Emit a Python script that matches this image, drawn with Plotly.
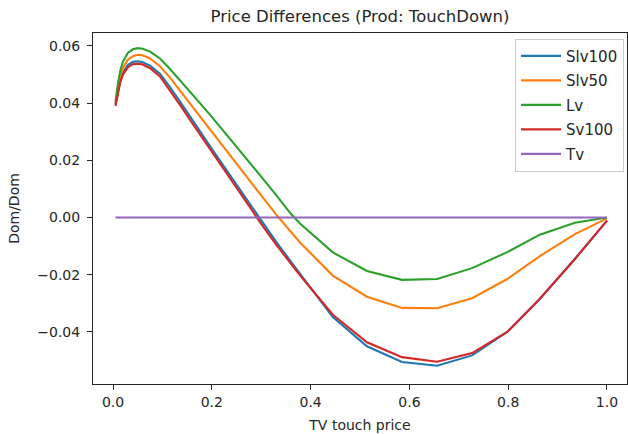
import plotly.graph_objects as go

x = [0.005, 0.01, 0.015, 0.02, 0.03, 0.04, 0.05, 0.06, 0.075, 0.095, 0.115, 0.136,
     0.156, 0.176, 0.2, 0.237, 0.271, 0.30, 0.33, 0.36, 0.379, 0.445, 0.514, 0.585,
     0.656, 0.727, 0.798, 0.864, 0.935, 1.0]

slv100 = [0.0395, 0.0445, 0.0482, 0.0507, 0.0533, 0.0544, 0.0546, 0.0543, 0.0531, 0.0503,
          0.0457, 0.0404, 0.0352, 0.0301, 0.0240, 0.0147, 0.0062, -0.0012, -0.0084, -0.0154,
          -0.0198, -0.0348, -0.0450, -0.0505, -0.0518, -0.0482, -0.0400, -0.0285, -0.0145, -0.0011]

slv50 = [0.0398, 0.0455, 0.0496, 0.0523, 0.0552, 0.0564, 0.0569, 0.0567, 0.0556, 0.0529,
         0.0490, 0.0443, 0.0398, 0.0353, 0.0300, 0.0218, 0.0142, 0.0077, 0.0011, -0.0050,
         -0.0088, -0.0203, -0.0277, -0.0316, -0.0317, -0.0282, -0.0215, -0.0135, -0.0058, -0.0003]

lv = [0.0405, 0.0470, 0.0515, 0.0545, 0.0575, 0.0588, 0.0592, 0.0590, 0.0580, 0.0556,
      0.0520, 0.0480, 0.0440, 0.0400, 0.0352, 0.0276, 0.0204, 0.0143, 0.0079, 0.0013,
      -0.0022, -0.0122, -0.0187, -0.0218, -0.0215, -0.0177, -0.0121, -0.0060, -0.0018, 0.0]

sv100 = [0.0390, 0.0438, 0.0475, 0.0499, 0.0525, 0.0536, 0.0538, 0.0535, 0.0522, 0.0493,
         0.0446, 0.0393, 0.0341, 0.0290, 0.0230, 0.0137, 0.0052, -0.0022, -0.0094, -0.0162,
         -0.0203, -0.0340, -0.0436, -0.0488, -0.0504, -0.0474, -0.0400, -0.0284, -0.0145, -0.0011]

tv = [0.0] * len(x)

names = ["Slv100", "Slv50", "Lv", "Sv100", "Tv"]
series = [slv100, slv50, lv, sv100, tv]
colors = ["#1f77b4", "#ff7f0e", "#2ca02c", "#d62728", "#9467bd"]

FONT = "DejaVu Sans"
TXT = "#262626"

fig = go.Figure()
for n, s, c in zip(names, series, colors):
    fig.add_trace(go.Scatter(x=x, y=s, mode="lines", name=n, legendgroup=n,
                             line=dict(color=c, width=2.1)))

fig.update_layout(
    width=628, height=434,
    margin=dict(l=93, r=1, t=33, b=50),
    paper_bgcolor="white", plot_bgcolor="white",
    font=dict(family=FONT, size=14, color=TXT),
    title=dict(text="Price Differences (Prod: TouchDown)", x=(93 + 627) / 2 / 628,
               xanchor="center", y=1 - 16 / 434, yanchor="middle", yref="container",
               font=dict(size=16.5, color=TXT)),
    showlegend=True,
    legend=dict(x=0.9944, y=0.984, xanchor="right", yanchor="top",
                bgcolor="rgba(255,255,255,0.8)", bordercolor="#cccccc", borderwidth=1,
                font=dict(size=15, color=TXT), tracegroupgap=2,
                itemwidth=40),
)

fig.update_xaxes(range=[-0.0405, 1.0405], showgrid=False, zeroline=False,
                 showline=True, mirror=True, linecolor=TXT, linewidth=1,
                 ticks="outside", ticklen=5, tickwidth=1, tickcolor=TXT,
                 tick0=0, dtick=0.2, tickformat=".1f",
                 title=dict(text="TV touch price", standoff=11, font=dict(size=14)))
fig.update_yaxes(range=[-0.0582, 0.0645], showgrid=False, zeroline=False,
                 showline=True, mirror=True, linecolor=TXT, linewidth=1,
                 ticks="outside", ticklen=5, tickwidth=1, tickcolor=TXT,
                 tick0=0, dtick=0.02, tickformat=".2f", ticklabelstandoff=4,
                 title=dict(text="Dom/Dom", standoff=14, font=dict(size=14)))

fig.write_html("out.html", config={"displayModeBar": False},
               post_script="document.body.style.margin='0';document.body.style.overflow='hidden';")
